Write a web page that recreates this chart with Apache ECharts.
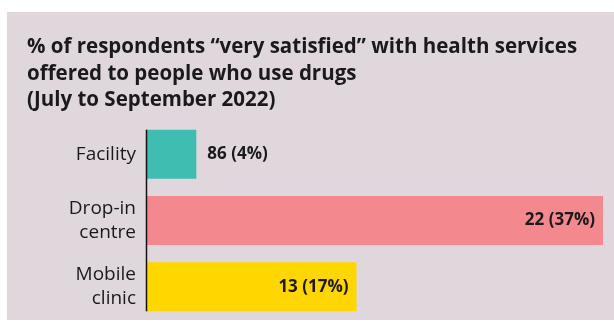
<!DOCTYPE html>
<html>
<head>
<meta charset="utf-8">
<script src="https://cdn.jsdelivr.net/npm/echarts@6/dist/echarts.min.js"></script>
<style>
  html, body { margin: 0; padding: 0; background: #ffffff; }
  #panel { position: absolute; left: 7px; top: 12px; width: 607px; height: 308px; background: #e0d7dd; }
  #chart { width: 607px; height: 308px; }
</style>
</head>
<body>
<div id="panel"><div id="chart"></div></div>
<script>
// Services, respondent counts and their share "very satisfied"
const categories = ['Facility', 'Drop-in\ncentre', 'Mobile\nclinic'];
const percents = [4, 37, 17];
const counts = [86, 22, 13];
const barColors = ['#3fbdb0', '#f4888f', '#ffd600'];

const titleText = '% of respondents \u201cvery satisfied\u201d with health services\noffered to people who use drugs\n(July to September 2022)';
const FONT = '"Open Sans", "Noto Sans", sans-serif';

const chart = echarts.init(document.getElementById('chart'), null, { renderer: 'canvas' });

chart.setOption({
  animation: false,
  title: {
    text: titleText,
    left: 15,
    top: 17,
    textStyle: {
      fontFamily: FONT,
      fontSize: 20.5,
      fontWeight: 'bold',
      color: '#1a1a1a',
      lineHeight: 26.5
    }
  },
  grid: { left: 140, right: 11, top: 109, height: 202 },
  xAxis: {
    type: 'value',
    min: 0,
    max: 37,
    show: false
  },
  yAxis: {
    type: 'category',
    data: categories,
    inverse: true,
    axisLine: { show: false },
    axisTick: { show: false },
    axisLabel: {
      margin: 11,
      fontFamily: FONT,
      fontSize: 19,
      lineHeight: 24,
      color: '#1a1a1a',
      align: 'right'
    }
  },
  series: [{
    type: 'bar',
    barWidth: 49,
    data: percents.map((p, i) => ({
      value: p,
      itemStyle: { color: barColors[i] },
      label: i === 0
        ? { position: 'right', distance: 11 }
        : { position: 'insideRight', distance: 8 }
    })),
    label: {
      show: true,
      fontFamily: FONT,
      fontSize: 17,
      fontWeight: 'bold',
      color: '#1a1a1a',
      formatter: p => counts[p.dataIndex] + ' (' + percents[p.dataIndex] + '%)'
    }
  }]
});

// Vertical baseline drawn only across the span of the bars
function drawBaseline() {
  const x0 = chart.convertToPixel({ xAxisIndex: 0 }, 0);
  const yTop = chart.convertToPixel({ yAxisIndex: 0 }, categories[0]) - 24.5;
  const yBot = chart.convertToPixel({ yAxisIndex: 0 }, categories[categories.length - 1]) + 24.5;
  chart.setOption({
    graphic: [{
      type: 'line',
      z: 10,
      shape: { x1: x0 - 0.5, y1: yTop, x2: x0 - 0.5, y2: yBot },
      style: { stroke: '#111111', lineWidth: 1.5 }
    }]
  });
}
drawBaseline();
</script>
</body>
</html>
